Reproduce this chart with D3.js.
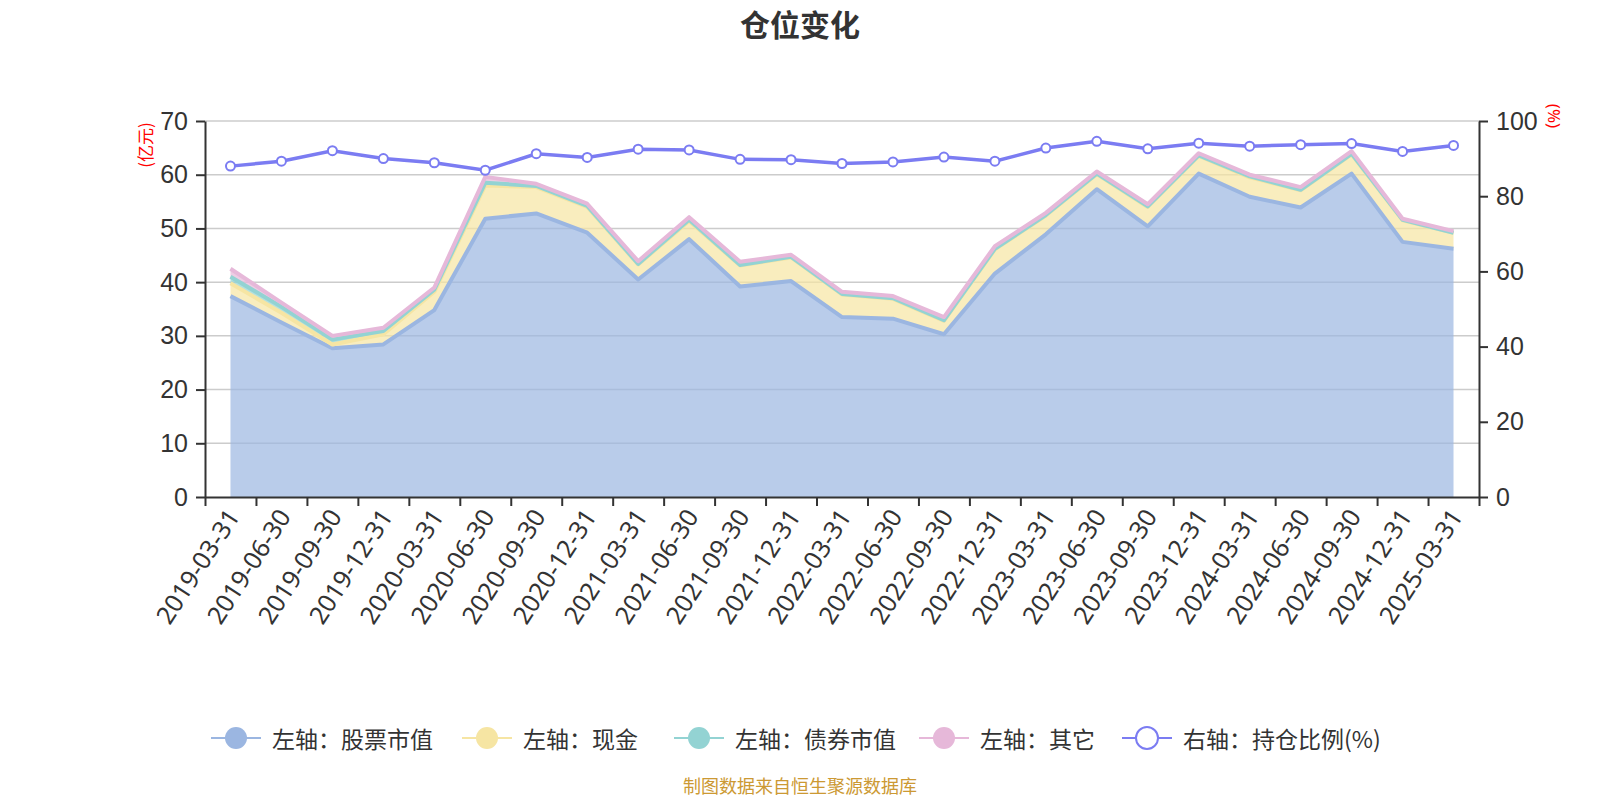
<!DOCTYPE html>
<html>
<head>
<meta charset="utf-8">
<script src="https://cdn.jsdelivr.net/npm/d3@7"></script>
<style>
  body { margin: 0; background: #fff; }
  svg { display: block; font-family: "Noto Sans", "Noto Sans CJK SC", sans-serif; }
</style>
</head>
<body>
<svg id="chart" width="1600" height="800"></svg>
<script>
// quarter-end dates
const dates = ["2019-03-31","2019-06-30","2019-09-30","2019-12-31","2020-03-31","2020-06-30","2020-09-30","2020-12-31",
  "2021-03-31","2021-06-30","2021-09-30","2021-12-31","2022-03-31","2022-06-30","2022-09-30","2022-12-31",
  "2023-03-31","2023-06-30","2023-09-30","2023-12-31","2024-03-31","2024-06-30","2024-09-30","2024-12-31","2025-03-31"];

// left axis, 亿元
const stock = [37.4, 32.5, 27.7, 28.4, 34.8, 51.8, 52.8, 49.2, 40.5, 48.0, 39.2, 40.2, 33.5, 33.2, 30.3, 41.6, 48.9, 57.3, 50.4, 60.2, 55.9, 53.9, 60.2, 47.5, 46.2];
const cash  = [2.4, 1.8, 0.7, 1.9, 3.4, 6.2, 4.9, 4.8, 2.8, 3.4, 3.9, 4.4, 4.2, 3.7, 2.5, 4.5, 3.5, 2.8, 3.6, 3.3, 3.6, 3.2, 3.6, 4.0, 3.0];
const bond  = [1.2, 1.1, 0.9, 0.6, 0.4, 0.5, 0.2, 0.2, 0.1, 0.2, 0.1, 0.1, 0.1, 0.1, 0.1, 0.1, 0.1, 0.1, 0.1, 0.1, 0.2, 0.1, 0.1, 0.1, 0.0];
const other = [1.5, 0.8, 0.7, 0.6, 0.4, 1.1, 0.4, 0.4, 0.5, 0.5, 0.6, 0.4, 0.4, 0.4, 0.6, 0.5, 0.4, 0.4, 0.4, 0.4, 0.3, 0.5, 0.5, 0.2, 0.3];
// right axis, %
const ratio = [88.0, 89.3, 92.1, 90.0, 88.9, 86.9, 91.3, 90.3, 92.5, 92.3, 89.8, 89.7, 88.7, 89.1, 90.4, 89.3, 92.8, 94.6, 92.6, 94.1, 93.3, 93.7, 94.0, 91.9, 93.5];

const leftTicks = [0, 10, 20, 30, 40, 50, 60, 70];
const rightTicks = [0, 20, 40, 60, 80, 100];

const seriesNames = ["左轴：股票市值", "左轴：现金", "左轴：债券市值", "左轴：其它", "右轴：持仓比例(%)"];
const colors = ["#9bb6e1", "#f6e5a3", "#93d3d3", "#e6b8d9", "#7b7cf2"];

const svg = d3.select("#chart");
const plotL = 205, plotR = 1479, plotT = 121, plotB = 497;

const x = d3.scaleBand().domain(dates).range([plotL, plotR]).padding(0);
const cx = d => x(d) + x.bandwidth() / 2;
const y = d3.scaleLinear().domain([0, 70]).range([plotB, plotT]);
const yR = d3.scaleLinear().domain([0, 100]).range([plotB, plotT]);

// title
svg.append("text").attr("x", 800).attr("y", 23).attr("text-anchor", "middle")
  .attr("dominant-baseline", "central")
  .attr("font-size", 30).attr("font-weight", "bold").attr("fill", "#333")
  .attr("font-family", "Noto Sans CJK SC").text("仓位变化");

// grid
svg.append("g").selectAll("line").data(leftTicks.slice(1)).join("line")
  .attr("x1", plotL).attr("x2", plotR).attr("y1", d => y(d)).attr("y2", d => y(d))
  .attr("stroke", "#ccc").attr("stroke-width", 1.5);

// stacked areas
const rows = dates.map((d, i) => ({date: d, stock: stock[i], cash: cash[i], bond: bond[i], other: other[i]}));
const keys = ["stock", "cash", "bond", "other"];
const stacked = d3.stack().keys(keys)(rows);

const area = d3.area().x(d => cx(d.data.date)).y0(d => y(d[0])).y1(d => y(d[1]));
const topLine = d3.line().x(d => cx(d.data.date)).y(d => y(d[1]));

stacked.forEach((layer, k) => {
  svg.append("path").datum(layer).attr("d", area)
    .attr("fill", colors[k]).attr("fill-opacity", 0.7);
});
stacked.forEach((layer, k) => {
  svg.append("path").datum(layer).attr("d", topLine)
    .attr("fill", "none").attr("stroke", colors[k]).attr("stroke-width", 4)
    .attr("stroke-linejoin", "round");
});

// axes
const axisStyle = g => {
  g.selectAll(".domain").attr("stroke", "#333").attr("stroke-width", 2);
  g.selectAll(".tick line").attr("stroke", "#333").attr("stroke-width", 2);
  g.selectAll(".tick text").attr("fill", "#333").attr("font-size", 25);
};

svg.append("g").attr("transform", `translate(${plotL},0)`)
  .call(d3.axisLeft(y).tickValues(leftTicks).tickSize(9).tickPadding(8).tickSizeOuter(0))
  .call(axisStyle);

svg.append("g").attr("transform", `translate(${plotR},0)`)
  .call(d3.axisRight(yR).tickValues(rightTicks).tickSize(9).tickPadding(8).tickSizeOuter(0))
  .call(axisStyle);

// x axis: ticks at band edges, labels at band centres
const edges = d3.scaleLinear().domain([0, dates.length]).range([plotL, plotR]);
svg.append("g").attr("transform", `translate(0,${plotB})`)
  .call(d3.axisBottom(edges).tickValues(d3.range(dates.length + 1)).tickSize(9).tickFormat("").tickSizeOuter(0))
  .call(axisStyle);

svg.append("g").selectAll("text").data(dates).join("text")
  .attr("transform", d => `translate(${cx(d) + 2},${plotB + 14}) rotate(-57)`)
  .attr("text-anchor", "end").attr("dominant-baseline", "central")
  .attr("font-size", 25).attr("fill", "#333").text(d => d);

// axis names
svg.append("text").attr("transform", "translate(144,145) rotate(-90)")
  .attr("text-anchor", "middle").attr("dominant-baseline", "central")
  .attr("font-size", 17).attr("fill", "red").attr("font-family", "Noto Sans CJK SC").text("(亿元)");
svg.append("text").attr("transform", "translate(1554,116) rotate(90)")
  .attr("text-anchor", "middle").attr("dominant-baseline", "central")
  .attr("font-size", 17).attr("fill", "red").text("(%)");

// ratio line
svg.append("path").datum(ratio)
  .attr("d", d3.line().x((d, i) => cx(dates[i])).y(d => yR(d)))
  .attr("fill", "none").attr("stroke", colors[4]).attr("stroke-width", 3.5);
svg.append("g").selectAll("circle").data(ratio).join("circle")
  .attr("cx", (d, i) => cx(dates[i])).attr("cy", d => yR(d)).attr("r", 4.5)
  .attr("fill", "#fff").attr("stroke", colors[4]).attr("stroke-width", 2);

// legend
const legendX = [236, 487, 699, 944, 1147];
const lg = svg.append("g").attr("font-family", "Noto Sans CJK SC");
seriesNames.forEach((name, i) => {
  const g = lg.append("g").attr("transform", `translate(${legendX[i]},738)`);
  g.append("line").attr("x1", -25).attr("x2", 25).attr("stroke", colors[i]).attr("stroke-width", 2);
  g.append("circle").attr("r", 11)
    .attr("fill", i === 4 ? "#fff" : colors[i])
    .attr("stroke", i === 4 ? colors[i] : "none").attr("stroke-width", 2);
  g.append("text").attr("x", 36).attr("dominant-baseline", "central")
    .attr("font-size", 23).attr("fill", "#333").text(name);
});

// source
svg.append("text").attr("x", 800).attr("y", 785).attr("text-anchor", "middle")
  .attr("dominant-baseline", "central").attr("font-size", 18).attr("fill", "#cc9933")
  .attr("font-family", "Noto Sans CJK SC").text("制图数据来自恒生聚源数据库");
</script>
</body>
</html>
